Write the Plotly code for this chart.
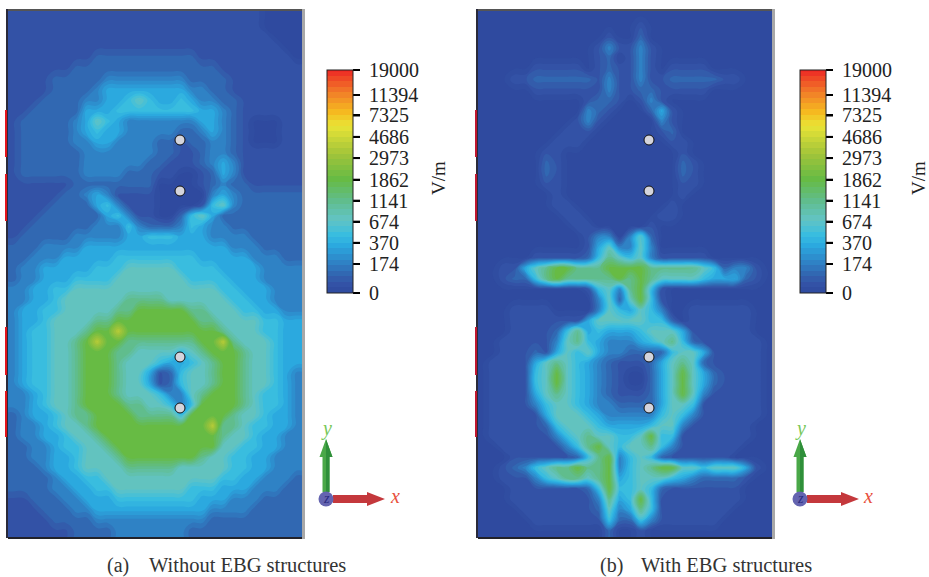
import numpy as np
import plotly.graph_objects as go

W, H = 929, 577

# colour-bar labels (V/m) and where they sit on the bar's 0-10 scale
tick_text = ["0", "174", "370", "674", "1141", "1862", "2973", "4686", "7325", "11394", "19000"]
tick_vals = [0, 1.3, 2.25, 3.2, 4.14, 5.08, 6.05, 7.0, 7.96, 8.88, 10]

# value of each field level used in the two grids, on the bar's scale
level_values = [0.0, 0.45, 0.85, 1.4, 2.1, 2.6, 3.3, 4.1, 5.1, 6.6]

# field level, top row first
field_a = [
"1111111111111111111111110000",
"1111111111111111111111110000",
"1111111111111111111111111000",
"1111111111111111111111111100",
"1111111122222222221111111110",
"1111112222222222222211111111",
"1111222223333333322221111111",
"1111222234444444433221111111",
"1112222334456544543322111111",
"1122222444555555554432111111",
"1222223465433333334432100011",
"1222223454433333223432100011",
"1222223344333322122332100011",
"1222222333333322112332111111",
"1222222333333221112343111111",
"1222222333322211001243111111",
"1111112222222200001232211111",
"1111122343111100000343222222",
"1111222245311100001563222222",
"1112222224531100256422222222",
"1122222233353222354332222222",
"1222223333344555444333322222",
"2223333444444444444443332222",
"2233344444555555554444433322",
"2334444455566666555544443333",
"2334445555666666655554443333",
"3344556666666666666655444333",
"3344566666677776666665544333",
"3445566666778888877666554433",
"3445666677888888887766665544",
"3455666788988888888876665544",
"3455667898877777778897666544",
"3455667888776666567888766544",
"3455667888766654456788766544",
"3455667888766412566788766543",
"3455667888766412566788766543",
"3345667888766653367888765543",
"3345667888877665358888765543",
"2344567788887777588887665443",
"2334566788888888888977655443",
"2334456678888888888876654433",
"2233455667888888888866554433",
"2233445666788888887665544333",
"2223445666677777666665544333",
"2222344556666666666655443332",
"2222334455666666655544433322",
"1122233444555555554443332222",
"1112223344444444444333322222",
"1111222233333333333222222222",
"1111112222333333322222222222",
]

# field level, top row first
field_b = [
"0000000000000000000000000000",
"0000000000000001000000000000",
"0000000000001002000000000000",
"0000000000013113100000000000",
"0000000000012013100000000000",
"0000011111012113101111000000",
"0001122222213113112222211000",
"0000011111113112211111000000",
"0000000000122101310000000000",
"0000000000321000241000000000",
"0000000001310000031000000000",
"0000000011100000012000000000",
"0000000111000000001100000000",
"0000001100000000000100000000",
"0000002100000000000210000000",
"0000002100000000000210000000",
"0000001100000000000110000000",
"0000000100000000000100000000",
"0000000110000000001000000000",
"0000000011000000011000000000",
"0000000001100000100000000000",
"0000000000133036200000000000",
"0000000000146336300000000000",
"0000011111257656311111000000",
"0011467887778888777776523310",
"0012257877777878766665444210",
"0000000000156378510000000000",
"0000000000036268510000000000",
"0001111000036546530011111100",
"0001111111466666552011111100",
"0001111257454445666411111100",
"0011111367543334567521111110",
"0011121465643322225664111110",
"0111146765432111246762111110",
"0111156865432100246864211110",
"0111156865432100246864211110",
"0111146765432111246863111110",
"0111135665433222246651111110",
"0111114666543333356531111110",
"0111112566654444566311111100",
"0111111356766556855111111100",
"0011111135786566753111111000",
"0001111112578356521111110000",
"0012356778778356788665666410",
"0011135677678456665432222100",
"0001111111258556521111111000",
"0001111111137458511111111000",
"0000111111126347511111110000",
"0000011111115225311111100000",
"0000000000002001000000000000",
]

# probe points on each panel, as distance from its top-left corner
port_x_a = [172, 172, 172, 172]
port_y_a = [129, 180, 346, 397]
port_x_b = [171, 171, 171, 171]
port_y_b = [129, 180, 346, 397]

scale_pos = [0, 0.45, 0.85, 1.4, 2.1, 2.6, 3.3, 4.1, 5.1, 6.2, 7.5, 8.1, 9, 10]
scale_col = ["#2f4a9f", "#3454a7", "#3167b1", "#2f83c6", "#2aa8df", "#38bde0", "#62c4c4",
             "#60bd8f", "#66bb44", "#a0c43a", "#eae436", "#f5bb20", "#f17c28", "#ee2a24"]

CS = [[p / 10, c] for p, c in zip(scale_pos, scale_col)]
CELL = 10.5
SERIF = "Liberation Serif"


def to_z(rows):
    z = np.array([[level_values[int(ch)] for ch in r] for r in rows])
    return np.pad(z, 1, mode="edge")  # carries the field out to the panel's edge


def px(x):
    return x / W


def py(y):
    return 1 - y / H


def panel(fig, rows, ports_x, ports_y, n, bar_x):
    z = to_z(rows)
    xs = [0] + [CELL * (i + 0.5) for i in range(z.shape[1] - 2)] + [294]
    ys = [0] + [CELL * (i + 0.5) for i in range(z.shape[0] - 2)] + [526]
    fig.add_trace(go.Contour(
        z=z, x=xs, y=ys, xaxis=f"x{n}", yaxis=f"y{n}", zmin=0, zmax=10, colorscale=CS,
        autocontour=False, contours=dict(start=0, end=10, size=0.25, coloring="fill", showlines=False),
        line=dict(width=0, smoothing=1.3), hoverinfo="skip",
        colorbar=dict(
            x=px(bar_x), xanchor="left", xpad=0, ypad=0, y=py(70), yanchor="top",
            thicknessmode="pixels", thickness=26, lenmode="pixels", len=223,
            tickmode="array", tickvals=tick_vals, ticktext=["\u00a0" + t for t in tick_text],
            ticks="outside", ticklen=7, tickwidth=2, tickcolor="#000",
            outlinecolor="#222", outlinewidth=1,
            tickfont=dict(family=SERIF, size=20, color="#222"),
        ),
    ))
    fig.add_trace(go.Scatter(
        x=ports_x, y=ports_y, xaxis=f"x{n}", yaxis=f"y{n}", mode="markers", showlegend=False,
        marker=dict(size=10, color="#d4d4dc", line=dict(color="#111", width=1)), hoverinfo="skip",
    ))


fig = go.Figure()
panel(fig, field_a, port_x_a, port_y_a, "", 327)
panel(fig, field_b, port_x_b, port_y_b, "2", 800)

axis = dict(visible=False, showgrid=False, zeroline=False)
shapes = []


def rect(x0, y0, x1, y1, color):
    shapes.append(dict(type="rect", xref="paper", yref="paper", x0=px(x0), x1=px(x1), y0=py(y0), y1=py(y1),
                       fillcolor=color, line=dict(width=0), layer="above"))


def poly(points, color):
    d = "M " + " L ".join(f"{px(a):.5f},{py(b):.5f}" for a, b in points) + " Z"
    shapes.append(dict(type="path", xref="paper", yref="paper", path=d, fillcolor=color,
                       line=dict(width=0), layer="above"))


def frame(x0, x1, red):
    rect(x0 - 2, 9, x1 + 2, 11, "#555555")
    rect(x0 - 2, 9, x0, 538, "#2a2a3a")
    rect(x0, 537, x1 + 2, 539, "#22222a")
    rect(x1, 9, x1 + 3, 539, "#a8a8a8")
    for a, b in [(110, 157), (174, 221), (327, 375), (391, 437)]:
        rect(x0 - 3, a, x0 - 1, b, red)


def triad(cx):
    poly([(cx - 3.5, 492), (cx - 3.5, 457), (cx - 6.5, 457), (cx, 439), (cx + 6.5, 457), (cx + 3.5, 457), (cx + 3.5, 492)], "#4aa848")
    poly([(cx, 492), (cx, 439), (cx + 6.5, 457), (cx + 3.5, 457), (cx + 3.5, 492)], "#2f8f3a")
    poly([(cx + 7, 495), (cx + 41, 495), (cx + 41, 492), (cx + 59, 499), (cx + 41, 506), (cx + 41, 503), (cx + 7, 503)], "#c4383c")
    shapes.append(dict(type="circle", xref="paper", yref="paper", x0=px(cx - 7.5), x1=px(cx + 7.5),
                       y0=py(491.5), y1=py(506.5), fillcolor="#6464b0", line=dict(width=0), layer="above"))


def bar_ticks(bar_x):
    for v in tick_vals:
        y = 293 - v / 10 * 223
        rect(bar_x + 26, y - 1, bar_x + 33, y + 1, "#000000")


frame(8, 302, "#e2141c")
frame(478, 772, "#bf1730")
triad(326)
triad(800)
bar_ticks(327)
bar_ticks(800)


def text(x, y, s, size=18, color="#222", italic=False, angle=0, xanchor="center"):
    return dict(xref="paper", yref="paper", x=px(x), y=py(y), text=f"<i>{s}</i>" if italic else s,
                showarrow=False, xanchor=xanchor, yanchor="middle", textangle=angle,
                font=dict(family=SERIF, size=size, color=color))


annotations = [
    text(438, 178, "V/m", 19, angle=-90),
    text(918, 178, "V/m", 19, angle=-90),
    text(326, 428, "y", 20, "#78c85a", True),
    text(800, 428, "y", 20, "#78c85a", True),
    text(395, 496, "x", 20, "#e8503c", True),
    text(868, 496, "x", 20, "#e8503c", True),
    text(326, 498, "z", 14, "#2c2c80", True),
    text(800, 498, "z", 14, "#2c2c80", True),
    text(105, 565, "(a)", 20, "#333", xanchor="left"),
    text(147, 565, "Without EBG structures", 20.5, "#333", xanchor="left"),
    text(598, 565, "(b)", 20, "#333", xanchor="left"),
    text(639, 565, "With EBG structures", 20.5, "#333", xanchor="left"),
]

fig.update_layout(
    width=W, height=H, margin=dict(l=0, r=0, t=0, b=0), autosize=False,
    paper_bgcolor="white", plot_bgcolor="white", showlegend=False,
    xaxis=dict(domain=[px(8), px(302)], range=[0, 294], **axis),
    yaxis=dict(domain=[py(537), py(11)], range=[526, 0], **axis),
    xaxis2=dict(domain=[px(478), px(772)], range=[0, 294], **axis),
    yaxis2=dict(domain=[py(537), py(11)], range=[526, 0], **axis),
    shapes=shapes, annotations=annotations,
)

fig.write_html("out.html", config={"displayModeBar": False}, post_script="document.body.style.margin='0';")
